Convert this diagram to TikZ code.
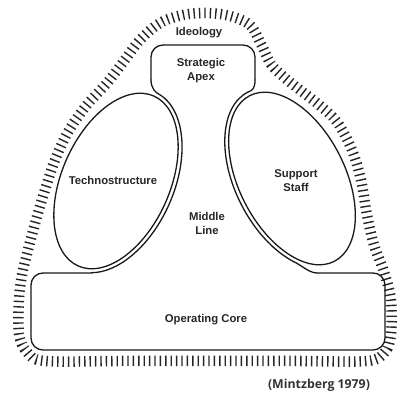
\documentclass[tikz,border=0pt]{standalone}
\usepackage{fontspec}
\setmainfont{Liberation Sans}
\newfontfamily\capfont{Open Sans}
\usetikzlibrary{calc}
\begin{document}
\begin{tikzpicture}[x=1pt,y=-1pt,
  wall/.style={line width=1.3pt, line join=round, line cap=round, draw=black!90},
  lbl/.style={font=\bfseries\fontsize{11.3}{14}\selectfont, align=center, inner sep=0pt, text=black!85},
  hatch/.style={line width=10.5pt, dash pattern=on 1.4pt off 4pt, draw=black!85}]
\useasboundingbox (0,0) rectangle (397,395);

% outer hatched boundary (ideology)
\draw[hatch] plot[smooth cycle, tension=0.55] coordinates {
 (391,334) (385,352) (367,361) (300,361) (210,361) (120,361) (45,361) (27,352) (19,334)
 (19,300) (22,275) (28,250) (36,220) (45,190) (55,160) (68,132) (86,106) (107,83)
 (124,61) (140,40) (160,23) (183,15) (207,13) (230,16) (250,25) (261,44) (271,64)
 (285,78) (300,90) (318,104) (337,122) (352,150) (361,180) (367,215) (374,245)
 (384,272) (391,300)};

% left ellipse (technostructure)
\begin{scope}[shift={(116,181)}, rotate=-24]
  \draw[wall] (0,0) ellipse[x radius=54, y radius=93];
  \coordinate (LT) at (-85:58 and 97);
  \coordinate (LT0) at (-95:58 and 97);
\end{scope}
% right ellipse (support staff)
\begin{scope}[shift={(292,178.5)}, rotate=27]
  \draw[wall] (0,0) ellipse[x radius=53, y radius=93];
  \coordinate (RT) at (-90:57 and 97);
  \coordinate (RT0) at (-80:57 and 97);
  \coordinate (RB) at (130:57 and 97);
  \coordinate (RB1) at (120:57 and 97);
\end{scope}

% fixed points
\coordinate (AL1) at (151,80);
\coordinate (AL2) at (151,88);
\coordinate (AR1) at (255,80);
\coordinate (AR2) at (255,88);
\coordinate (LTc) at ($(LT)!5pt!(LT0)$);
\coordinate (RTc) at ($(RT)!5pt!(RT0)$);
\coordinate (RBc) at ($(RB)!8pt!(RB1)$);
\coordinate (RJ) at (317,273);
\coordinate (RJc) at (309,273);

% strategic apex
\draw[wall, rounded corners=12pt] (AL1) -- (151,45) -- (255,45) -- (AR1);
% middle line, left wall
\draw[wall, rotate=-24] (AL1) .. controls (AL2) and (LTc) .. (LT)
  arc[start angle=-85, end angle=75, x radius=58, y radius=97];
% middle line, right wall
\draw[wall, rotate=27] (AR1) .. controls (AR2) and (RTc) .. (RT)
  arc[start angle=-90, end angle=-230, x radius=57, y radius=97]
  .. controls (RBc) and (RJc) .. (RJ);
% operating core
\draw[wall, rounded corners=12pt] (92,273) -- (31,273) -- (31,350) -- (385,350) -- (385,273) -- (RJ);

% labels
\node[lbl] (ideo) at (199,33) {Ideology};
\node[lbl] (apex) at (201,71) {Strategic\\Apex};
\node[lbl] (tech) at (113,180) {Technostructure};
\node[lbl] (supp) at (296,181) {Support\\Staff};
\node[lbl] (mid) at (207,223) {Middle\\Line};
\node[lbl] (core) at (206,320) {Operating Core};
\node[font=\capfont\bfseries\fontsize{12.3}{14}\selectfont, inner sep=0pt, text=black!80] (src) at (319,385) {(Mintzberg 1979)};
\end{tikzpicture}
\end{document}
